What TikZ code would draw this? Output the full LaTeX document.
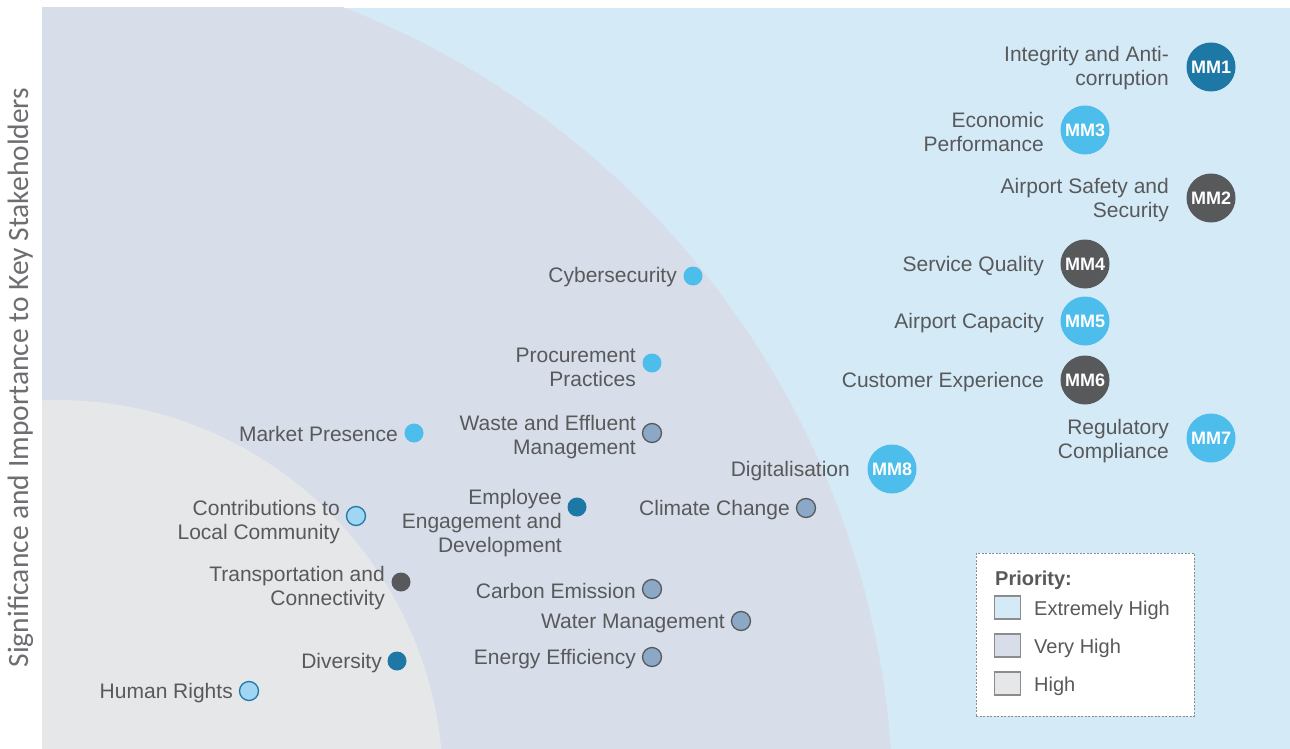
\documentclass[tikz,border=0pt]{standalone}
\usepackage{fontspec}
\setmainfont{Liberation Sans}
\newfontfamily\axisfont{Carlito}
\definecolor{exthigh}{HTML}{D4EAF7}
\definecolor{veryhigh}{HTML}{D7DEE9}
\definecolor{highc}{HTML}{E6E7E8}
\definecolor{txtgrey}{HTML}{58595B}
\definecolor{axisgrey}{HTML}{6D6E71}
\definecolor{darkblue}{HTML}{1E78A6}
\definecolor{brightblue}{HTML}{4DBDEC}
\definecolor{greyblue}{HTML}{8BA9C7}
\definecolor{lightblue}{HTML}{A0D6F4}
\definecolor{boxgrey}{HTML}{8A8C8E}
\begin{document}
\begin{tikzpicture}[x=1pt,y=-1pt,
  lbl/.style={anchor=east, align=right, text=txtgrey, inner sep=0pt,
    font=\fontsize{21}{24}\selectfont},
  mm/.style={circle, minimum size=49pt, inner sep=0pt, text=white,
    font=\bfseries\fontsize{18}{18}\selectfont},
  mmdark/.style={mm, fill=txtgrey},
  mmblue/.style={mm, fill=darkblue},
  mmbright/.style={mm, fill=brightblue},
  dot/.style={circle, minimum size=19pt, inner sep=0pt},
  dotbright/.style={dot, fill=brightblue},
  dotdblue/.style={dot, fill=darkblue},
  dotdgrey/.style={dot, fill=txtgrey},
  dotgb/.style={dot, fill=greyblue, draw=txtgrey, line width=1.3pt},
  dotlb/.style={dot, fill=lightblue, draw=darkblue, line width=1.3pt},
  legsq/.style={minimum width=26pt, minimum height=23pt, inner sep=0pt,
    draw=boxgrey, line width=1.2pt},
  legtxt/.style={anchor=west, text=txtgrey, inner sep=0pt,
    font=\fontsize{20}{20}\selectfont}
]
\useasboundingbox (0,0) rectangle (1290,749);
\fill[white] (0,0) rectangle (1290,749);
% priority zones
\fill[exthigh] (42,8) rectangle (1290,749);
\begin{scope}
  \clip (42,8) rectangle (1290,749);
  \fill[veryhigh] (31,811) circle[radius=862pt];
  \fill[highc] (57,786) circle[radius=386pt];
\end{scope}
% axis title
\node[rotate=90, anchor=base, inner sep=0pt, text=axisgrey,
  font=\axisfont\fontsize{29.5}{30}\selectfont] (axis) at (28,377.5)
  {Significance and Importance to Key Stakeholders};
% material matters
\node[mmblue]   (mm1) at (1211,67)  {MM1};
\node[mmbright] (mm3) at (1085,130) {MM3};
\node[mmdark]   (mm2) at (1211,198) {MM2};
\node[mmdark]   (mm4) at (1085,264) {MM4};
\node[mmbright] (mm5) at (1085,321) {MM5};
\node[mmdark]   (mm6) at (1085,380) {MM6};
\node[mmbright] (mm7) at (1211,438) {MM7};
\node[mmbright] (mm8) at (892,469)  {MM8};
\node[lbl] (l1) at (1169,68)  {Integrity and Anti-\\corruption};
\node[lbl] (l3) at (1044,132) {Economic\\Performance};
\node[lbl] (l2) at (1169,200) {Airport Safety and\\Security};
\node[lbl] (l4) at (1044,266) {Service Quality};
\node[lbl] (l5) at (1044,323) {Airport Capacity};
\node[lbl] (l6) at (1044,382) {Customer Experience};
\node[lbl] (l7) at (1169,441) {Regulatory\\Compliance};
\node[lbl] (l8) at (850,471)  {Digitalisation};
% other topics
\node[dotbright] (d1)  at (693,276) {};
\node[lbl] (t1)  at (677,277) {Cybersecurity};
\node[dotbright] (d2)  at (652,363) {};
\node[lbl] (t2)  at (636,367) {Procurement\\Practices};
\node[dotbright] (d3)  at (414,433) {};
\node[lbl] (t3)  at (398,434) {Market Presence};
\node[dotgb] (d4)  at (652,433) {};
\node[lbl] (t4)  at (636,437) {Waste and Effluent\\Management};
\node[dotdblue] (d5)  at (577,507) {};
\node[lbl] (t5)  at (562,523) {Employee\\Engagement and\\Development};
\node[dotgb] (d6)  at (806,508) {};
\node[lbl] (t6)  at (790,510) {Climate Change};
\node[dotlb] (d7)  at (356,516) {};
\node[lbl] (t7)  at (340,522) {Contributions to\\Local Community};
\node[dotdgrey] (d8)  at (401,582) {};
\node[lbl] (t8)  at (385,588) {Transportation and\\Connectivity};
\node[dotgb] (d9)  at (652,589) {};
\node[lbl] (t9)  at (636,591) {Carbon Emission};
\node[dotgb] (d10) at (741,621) {};
\node[lbl] (t10) at (725,623) {Water Management};
\node[dotdblue] (d11) at (397,661) {};
\node[lbl] (t11) at (382,663) {Diversity};
\node[dotgb] (d12) at (652,657) {};
\node[lbl] (t12) at (636,659) {Energy Efficiency};
\node[dotlb] (d13) at (249,691) {};
\node[lbl] (t13) at (233,693) {Human Rights};
% legend
\node[draw=boxgrey, fill=white, line width=1pt, dash pattern=on 2pt off 1.5pt,
  minimum width=218pt, minimum height=163pt, inner sep=0pt] (legend) at (1085,634.5) {};
\node[legtxt, font=\bfseries\fontsize{20}{20}\selectfont] (prio) at (995,580) {Priority:};
\node[legsq, fill=exthigh]  (s1) at (1007.5,607.5) {};
\node[legtxt] (e1) at (1034,610) {Extremely High};
\node[legsq, fill=veryhigh] (s2) at (1007.5,645.5) {};
\node[legtxt] (e2) at (1034,648) {Very High};
\node[legsq, fill=highc]    (s3) at (1007.5,683.5) {};
\node[legtxt] (e3) at (1034,686) {High};
\end{tikzpicture}
\end{document}
